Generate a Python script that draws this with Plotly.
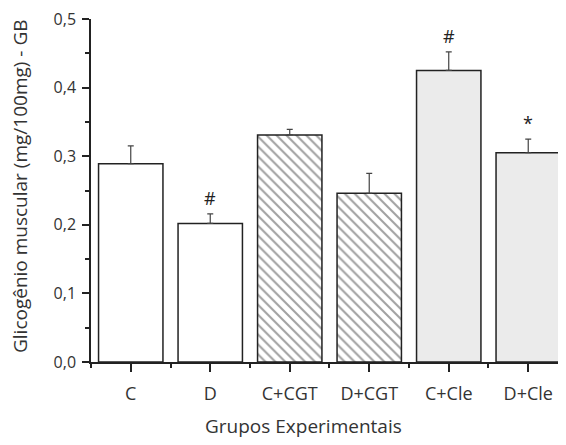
import plotly.graph_objects as go

categories = ["C", "D", "C+CGT", "D+CGT", "C+Cle", "D+Cle"]
means = [0.289, 0.202, 0.331, 0.246, 0.425, 0.305]
errors = [0.026, 0.014, 0.008, 0.029, 0.027, 0.020]
marks = ["", "#", "", "", "#", "*"]
fill_colors = ["white", "white", "white", "white", "#ebebeb", "#ebebeb"]
patterns = ["", "", "\\", "\\", "", ""]

FONT = "Open Sans"
x = list(range(len(categories)))

fig = go.Figure()
fig.add_trace(go.Bar(
    x=x, y=means, width=0.81,
    marker=dict(
        color=fill_colors,
        line=dict(color="#222", width=1.5),
        pattern=dict(shape=patterns, fgcolor="#222", bgcolor="white",
                     size=7, solidity=0.3, fillmode="overlay"),
    ),
    error_y=dict(type="data", array=errors, arrayminus=[0]*len(errors),
                 symmetric=False, color="#444", thickness=1.2, width=3),
    showlegend=False,
))

for xi, m, e, t in zip(x, means, errors, marks):
    if t:
        fig.add_annotation(x=xi, y=m + e, text=t, showarrow=False,
                           yanchor="middle", yshift=16,
                           font=dict(family=FONT, size=18, color="#222"))

fig.add_annotation(xref="paper", yref="paper", x=0.448, y=-0.186,
                   text="Grupos Experimentais", showarrow=False,
                   xanchor="center", yanchor="middle",
                   font=dict(family=FONT, size=19, color="#333"))

fig.add_annotation(xref="paper", yref="paper", x=-0.1495, y=0.513,
                   text="Glicogênio muscular (mg/100mg) - GB", showarrow=False,
                   textangle=-90, xanchor="center", yanchor="middle",
                   font=dict(family=FONT, size=19, color="#333"))

fig.update_layout(
    width=558, height=437,
    margin=dict(l=83, r=0, t=11, b=83, autoexpand=False),
    paper_bgcolor="white", plot_bgcolor="white",
    separators=",.",
    font=dict(family=FONT, color="#333"),
    xaxis=dict(
        range=[-0.5, 5.475],
        automargin=False,
        tickvals=x, ticktext=categories,
        ticks="outside", ticklen=8, tickwidth=1.5, tickcolor="#222",
        minor=dict(tick0=0.5, dtick=1, ticks="outside", ticklen=4,
                   tickwidth=1.5, tickcolor="#222"),
        showline=True, linecolor="#222", linewidth=1.5,
        showgrid=False, zeroline=False,
        tickfont=dict(family=FONT, size=18, color="#333"),
        ticklabelstandoff=7,
        ticklabeloverflow="allow",
    ),
    yaxis=dict(
        range=[0, 0.5],
        automargin=False,
        tickvals=[0, 0.1, 0.2, 0.3, 0.4, 0.5],
        tickformat=".1f",
        ticks="outside", ticklen=7, tickwidth=1.5, tickcolor="#222",
        minor=dict(tickvals=[0.05, 0.15, 0.25, 0.35, 0.45], ticks="outside",
                   ticklen=4, tickwidth=1.5, tickcolor="#222"),
        showline=True, linecolor="#222", linewidth=1.5,
        showgrid=False, zeroline=False,
        tickfont=dict(family=FONT, size=16, color="#333"),
        ticklabelstandoff=3,
        ticklabeloverflow="allow",
    ),
)

fig.write_html("out.html")
